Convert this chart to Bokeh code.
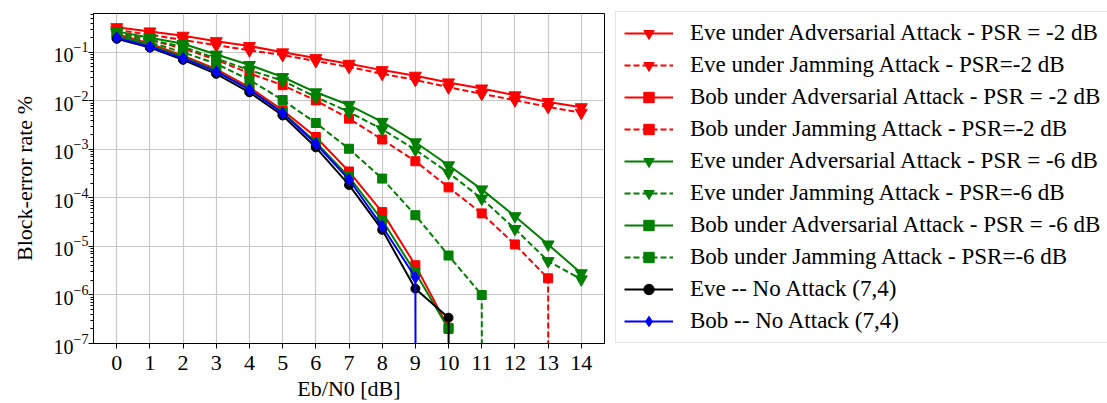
import numpy as np
from bokeh.plotting import figure
from bokeh.models import Legend, LegendItem, FixedTicker, LogTicker, Range1d
from bokeh.embed import file_html
from bokeh.resources import INLINE

# Eb/N0 [dB]
ebn0 = list(range(15))

# Block-error rate values (0 = no error observed -> drawn down to the axis floor)
eve_adv_m2 = [0.33, 0.27, 0.22, 0.17, 0.135, 0.10, 0.076, 0.058, 0.043, 0.033, 0.024, 0.018, 0.013, 0.0095, 0.0074]
eve_jam_m2 = [0.29, 0.23, 0.18, 0.14, 0.11, 0.088, 0.066, 0.05, 0.036, 0.027, 0.019, 0.014, 0.0103, 0.0075, 0.0057]
bob_adv_m2 = [0.24, 0.15, 0.085, 0.045, 0.019, 0.0064, 0.0018, 3.5e-4, 5.1e-5, 4.1e-6, 2.1e-7]
bob_jam_m2 = [0.25, 0.18, 0.12, 0.07, 0.037, 0.021, 0.0102, 0.0043, 0.0016, 5.7e-4, 1.65e-4, 4.8e-5, 1.1e-5, 2.2e-6, 0]
eve_adv_m6 = [0.27, 0.20, 0.15, 0.09, 0.055, 0.031, 0.015, 0.0082, 0.0037, 0.0014, 4.7e-4, 1.5e-4, 4.2e-5, 1.1e-5, 2.8e-6]
eve_jam_m6 = [0.25, 0.18, 0.13, 0.075, 0.043, 0.026, 0.012, 0.0059, 0.0026, 9.8e-4, 3.3e-4, 9.7e-5, 2.3e-5, 5.0e-6, 2.1e-6]
bob_adv_m6 = [0.22, 0.14, 0.08, 0.042, 0.017, 0.0058, 0.0014, 2.7e-4, 3.5e-5, 2.9e-6, 2.0e-7]
bob_jam_m6 = [0.23, 0.16, 0.10, 0.058, 0.027, 0.0104, 0.0035, 0.00103, 2.5e-4, 4.4e-5, 6.5e-6, 1.0e-6, 0]
eve_no = [0.19, 0.125, 0.07, 0.036, 0.015, 0.005, 0.0011, 1.85e-4, 2.2e-5, 1.35e-6, 3.4e-7, 0]
bob_no = [0.20, 0.13, 0.075, 0.04, 0.017, 0.0056, 0.0013, 2.4e-4, 2.6e-5, 2.3e-6, 0]

x_ticks = list(range(15))

series = [
    ("Eve under Adversarial Attack - PSR = -2 dB", eve_adv_m2, "#ff0000", "solid", "inverted_triangle", 12),
    ("Eve under Jamming Attack - PSR=-2 dB", eve_jam_m2, "#ff0000", "6 3", "inverted_triangle", 12),
    ("Bob under Adversarial Attack - PSR = -2 dB", bob_adv_m2, "#ff0000", "solid", "square", 9),
    ("Bob under Jamming Attack - PSR=-2 dB", bob_jam_m2, "#ff0000", "6 3", "square", 9),
    ("Eve under Adversarial Attack - PSR = -6 dB", eve_adv_m6, "#008000", "solid", "inverted_triangle", 12),
    ("Eve under Jamming Attack - PSR=-6 dB", eve_jam_m6, "#008000", "6 3", "inverted_triangle", 12),
    ("Bob under Adversarial Attack - PSR = -6 dB", bob_adv_m6, "#008000", "solid", "square", 9),
    ("Bob under Jamming Attack - PSR=-6 dB", bob_jam_m6, "#008000", "6 3", "square", 9),
    ("Eve -- No Attack (7,4)", eve_no, "#000000", "solid", "circle", 9),
    ("Bob -- No Attack (7,4)", bob_no, "#0000ff", "solid", "diamond", 12),
]

FONT = "Liberation Serif"

p = figure(frame_width=511, frame_height=330,
           y_axis_type="log",
           x_range=Range1d(-0.7, 14.7), y_range=Range1d(1e-7, 10 ** -0.2),
           output_backend="svg", toolbar_location=None,
           min_border_left=93, min_border_right=503,
           min_border_top=13, min_border_bottom=60)
p.background_fill_color = "white"
p.border_fill_color = "white"
p.outline_line_color = "black"
p.outline_line_width = 1

items = []
for label, vals, color, dash, marker, size in series:
    v = np.array(vals, dtype=float)
    xs = np.array(ebn0[:len(v)], dtype=float)
    v_line = np.where(v > 0, v, 1e-300)
    lr = p.line(xs, v_line, line_color=color, line_width=2, line_dash=dash)
    pos = v > 0
    mr = p.scatter(xs[pos], v[pos], marker=marker, size=size,
                   fill_color=color, line_color=color)
    items.append(LegendItem(label=label, renderers=[lr, mr]))

legend = Legend(items=items, location=(11, 0))
legend.glyph_width = 49
legend.glyph_height = 26
legend.label_height = 26
legend.label_standoff = 17
legend.padding = 8
legend.spacing = 6
legend.margin = 0
legend.label_text_font = FONT
legend.label_text_font_size = "23px"
legend.label_text_color = "black"
legend.border_line_color = "#cccccc"
legend.border_line_width = 1
legend.background_fill_color = "white"
legend.background_fill_alpha = 1
p.add_layout(legend, "right")

# axes
p.xaxis.ticker = FixedTicker(ticks=x_ticks)
p.yaxis.ticker = LogTicker(num_minor_ticks=10)
for ax in (p.xaxis, p.yaxis):
    ax.major_label_text_font = FONT
    ax.major_label_text_font_size = "22px"
    ax.major_label_text_color = "black"
    ax.axis_label_text_font = FONT
    ax.axis_label_text_font_size = "22px"
    ax.axis_label_text_font_style = "normal"
    ax.axis_label_text_color = "black"
    ax.axis_line_color = "black"
    ax.major_tick_line_color = "black"
    ax.minor_tick_line_color = "black"
    ax.major_tick_in = 0
    ax.major_tick_out = 5
    ax.minor_tick_in = 0
    ax.minor_tick_out = 3
p.yaxis.major_label_text_font_size = "20px"
p.xaxis.minor_tick_line_color = None
p.xaxis.axis_label = "Eb/N0 [dB]"
p.yaxis.axis_label = "Block-error rate %"
p.xaxis.major_label_standoff = 7
p.xaxis.axis_label_standoff = 3
p.yaxis.major_label_standoff = 0
p.yaxis.axis_label_standoff = 14

p.xgrid.ticker = FixedTicker(ticks=x_ticks)
for g in (p.xgrid, p.ygrid):
    g.grid_line_color = "#c8c8c8"
    g.grid_line_width = 1.2
p.ygrid.minor_grid_line_color = None

open("out.html", "w").write(file_html(p, INLINE))
